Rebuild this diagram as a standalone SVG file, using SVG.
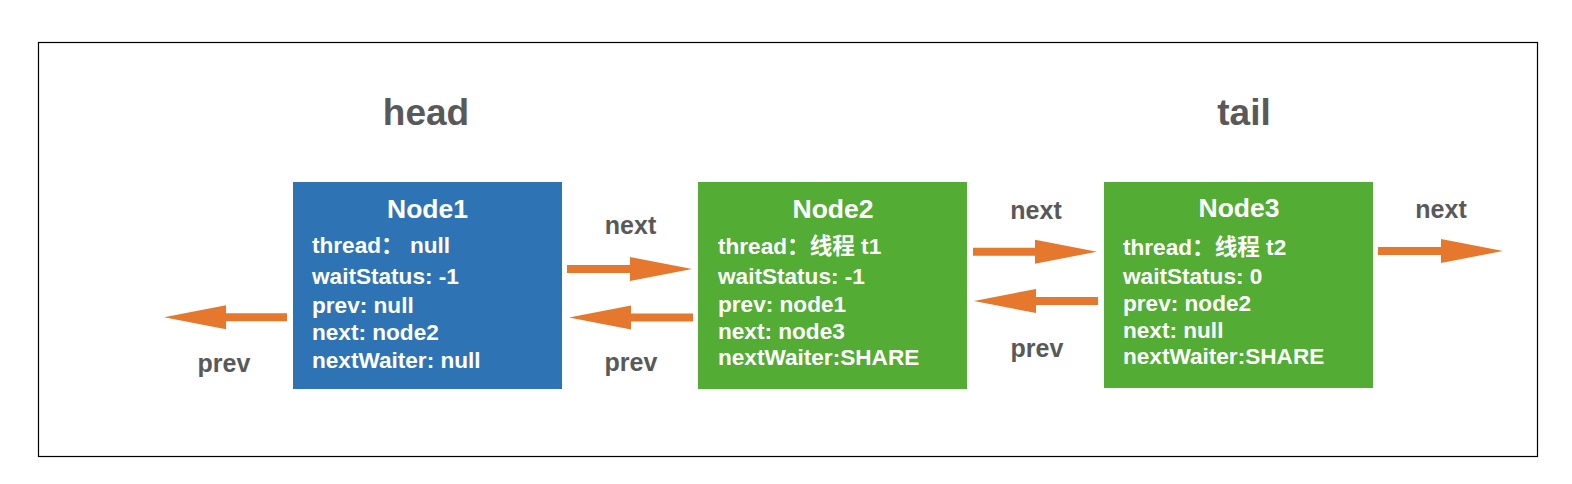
<svg xmlns="http://www.w3.org/2000/svg" width="1572" height="484" viewBox="0 0 1572 484">
<style>
.frame{fill:#ffffff;stroke:#000000;stroke-width:1.2}
.blue{fill:#2E74B5}
.green{fill:#53AC34}
.title{font-family:"Liberation Sans",Arial,"Noto Sans CJK SC",sans-serif;font-weight:bold;font-size:26.5px;fill:#ffffff;text-anchor:middle}
.attr{font-family:"Liberation Sans",Arial,"Noto Sans CJK SC",sans-serif;font-weight:bold;font-size:22.6px;fill:#ffffff}
.lbl{font-family:"Liberation Sans",Arial,sans-serif;font-weight:bold;font-size:25px;fill:#595959;text-anchor:middle}
.big{font-family:"Liberation Sans",Arial,sans-serif;font-weight:bold;font-size:37px;fill:#595959;text-anchor:middle}
.arrow{stroke:#E5782D;stroke-width:8;fill:none;marker-end:url(#ah)}
</style>
<defs>
<marker id="ah" markerUnits="userSpaceOnUse" markerWidth="62" markerHeight="24" refX="5" refY="12" orient="auto" overflow="visible">
<path d="M0,0 L62,12 L0,24 Z" fill="#E5782D"/>
</marker>
</defs>
<rect class="frame" x="38.5" y="42.5" width="1499" height="414"/>
<text class="big" x="426" y="125">head</text>
<text class="big" x="1244" y="125">tail</text>

<g id="node1">
<rect class="blue" x="293" y="182" width="269" height="207"/>
<text class="title" x="427.5" y="217.5">Node1</text>
<text class="attr" x="312" y="253">thread： null</text>
<text class="attr" x="312" y="284">waitStatus: -1</text>
<text class="attr" x="312" y="313">prev: null</text>
<text class="attr" x="312" y="340">next: node2</text>
<text class="attr" x="312" y="368">nextWaiter: null</text>
</g>

<g id="node2">
<rect class="green" x="698" y="182" width="269" height="207"/>
<text class="title" x="833" y="218">Node2</text>
<text class="attr" x="718" y="254">thread：线程 t1</text>
<text class="attr" x="718" y="284">waitStatus: -1</text>
<text class="attr" x="718" y="312">prev: node1</text>
<text class="attr" x="718" y="338.5">next: node3</text>
<text class="attr" x="718" y="365">nextWaiter:SHARE</text>
</g>

<g id="node3">
<rect class="green" x="1104" y="182" width="269" height="206"/>
<text class="title" x="1239" y="217">Node3</text>
<text class="attr" x="1123" y="255">thread：线程 t2</text>
<text class="attr" x="1123" y="283.5">waitStatus: 0</text>
<text class="attr" x="1123" y="311">prev: node2</text>
<text class="attr" x="1123" y="337.5">next: null</text>
<text class="attr" x="1123" y="364">nextWaiter:SHARE</text>
</g>

<g id="connectors">
<line class="arrow" x1="567" y1="269" x2="635" y2="269"/>
<text class="lbl" x="630.5" y="234">next</text>
<line class="arrow" x1="693" y1="317.5" x2="626" y2="317.5"/>
<text class="lbl" x="631" y="371">prev</text>
<line class="arrow" x1="973" y1="251.7" x2="1040" y2="251.7"/>
<text class="lbl" x="1036" y="218.5">next</text>
<line class="arrow" x1="1098" y1="301" x2="1031" y2="301"/>
<text class="lbl" x="1037" y="357">prev</text>
<line class="arrow" x1="1378" y1="251" x2="1446" y2="251"/>
<text class="lbl" x="1441" y="217.5">next</text>
<line class="arrow" x1="287" y1="317.3" x2="221" y2="317.3"/>
<text class="lbl" x="224" y="371.5">prev</text>
</g>
</svg>
